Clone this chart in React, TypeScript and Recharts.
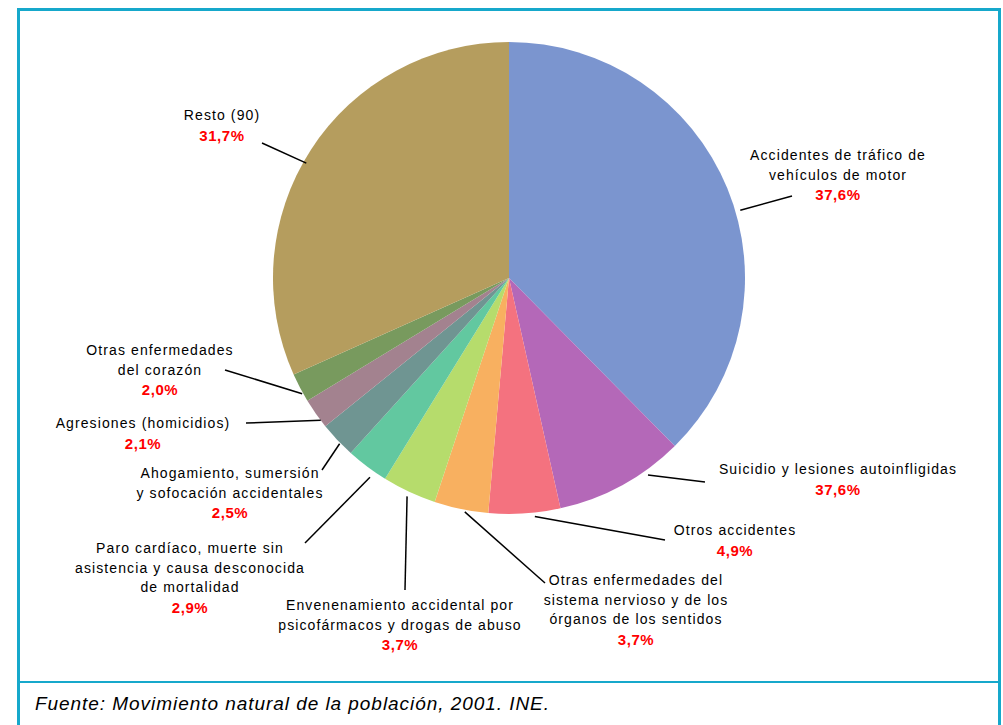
import React from "react";
import { PieChart, Pie, Cell } from "recharts";

const categories: string[][] = [
  ["Accidentes de tráfico de", "vehículos de motor"],
  ["Suicidio y lesiones autoinfligidas"],
  ["Otros accidentes"],
  ["Otras enfermedades del", "sistema nervioso y de los", "órganos de los sentidos"],
  ["Envenenamiento accidental por", "psicofármacos y drogas de abuso"],
  ["Paro cardíaco, muerte sin", "asistencia y causa desconocida", "de mortalidad"],
  ["Ahogamiento, sumersión", "y sofocación accidentales"],
  ["Agresiones (homicidios)"],
  ["Otras enfermedades", "del corazón"],
  ["Resto (90)"],
];
const values: number[] = [37.6, 8.9, 4.9, 3.7, 3.7, 2.9, 2.5, 2.1, 2.0, 31.7];
const percentLabels: string[] = ["37,6%", "37,6%", "4,9%", "3,7%", "3,7%", "2,9%", "2,5%", "2,1%", "2,0%", "31,7%"];
const colors: string[] = ["#7b95cf", "#b468b8", "#f4727f", "#f8b060", "#b6dc6c", "#62c8a0", "#6f9592", "#a3828f", "#789a5e", "#b59d5e"];
const sourceText = "Fuente: Movimiento natural de la población, 2001. INE.";

// label layout: text centre x, first line baseline y, leader end point, start radius offset, angle shift
const labelLayout = [
  { tx: 838, ty: 160, ex: 792, ey: 196, r0: 5, da: 6 },
  { tx: 838, ty: 474, ex: 705, ey: 482, r0: 5, da: -6.6 },
  { tx: 735, ty: 535, ex: 665, ey: 540, r0: 4, da: -2.4 },
  { tx: 636, ty: 585, ex: 545, ey: 583, r0: 2, da: -1 },
  { tx: 400, ty: 610, ex: 405, ey: 590, r0: 5, da: 0 },
  { tx: 190, ty: 553, ex: 305, ey: 543, r0: 7, da: -2 },
  { tx: 230, ty: 478, ex: 322, ey: 470, r0: 1, da: -1 },
  { tx: 143, ty: 428, ex: 246, ey: 423, r0: 0, da: -2 },
  { tx: 160, ty: 355, ex: 225, ey: 370, r0: 1, da: -1.5 },
  { tx: 222, ty: 120, ex: 262, ey: 143, r0: -3, da: -3.4 },
];

const data = categories.map((c, i) => ({ name: c.join(" "), value: values[i] }));
const RAD = Math.PI / 180;
const FONT = "'Liberation Sans', Arial, sans-serif";

const renderLabel = (props: any) => {
  const { cx, cy, midAngle, outerRadius, index } = props;
  const L = labelLayout[index];
  const r = outerRadius + L.r0;
  const a = midAngle - L.da;
  const sx = cx + r * Math.cos(-a * RAD);
  const sy = cy + r * Math.sin(-a * RAD);
  const lines = categories[index];
  const lh = 19.5;
  return (
    <g key={"lbl" + index}>
      <line x1={sx} y1={sy} x2={L.ex} y2={L.ey} stroke="#000" strokeWidth={1.5} />
      <text x={L.tx} y={L.ty} textAnchor="middle" fontFamily={FONT} fontSize={14} fill="#000" letterSpacing={1.1}>
        {lines.map((ln, k) => (
          <tspan key={k} x={L.tx} y={L.ty + k * lh}>{ln}</tspan>
        ))}
        <tspan x={L.tx} y={L.ty + lines.length * lh + 1} fill="#ff0000" fontSize={15} fontWeight="bold" letterSpacing={0.6}>
          {percentLabels[index]}
        </tspan>
      </text>
    </g>
  );
};

export default function App() {
  return (
    <div style={{ position: "absolute", left: 0, top: 0, width: 1003, height: 725, overflow: "hidden", background: "#fff" }}>
      <div style={{ position: "absolute", left: 17, top: 8, width: 978, height: 760, border: "3px solid #16a8cb", boxSizing: "content-box" }} />
      <div style={{ position: "absolute", left: 18, top: 681, width: 980, height: 2, background: "#16a8cb" }} />
      <div style={{ position: "absolute", left: 35, top: 693, fontFamily: FONT, fontStyle: "italic", fontSize: 19, letterSpacing: 0.95, color: "#000", whiteSpace: "nowrap" }}>
        {sourceText}
      </div>
      <div style={{ position: "absolute", left: 0, top: 0 }}>
        <PieChart width={1003} height={725}>
          <Pie
            data={data}
            dataKey="value"
            nameKey="name"
            cx={504}
            cy={273}
            outerRadius={236}
            startAngle={90}
            endAngle={-270}
            stroke="none"
            isAnimationActive={false}
            label={renderLabel}
            labelLine={false}
          >
            {data.map((d, i) => (
              <Cell key={i} fill={colors[i]} />
            ))}
          </Pie>
        </PieChart>
      </div>
    </div>
  );
}
